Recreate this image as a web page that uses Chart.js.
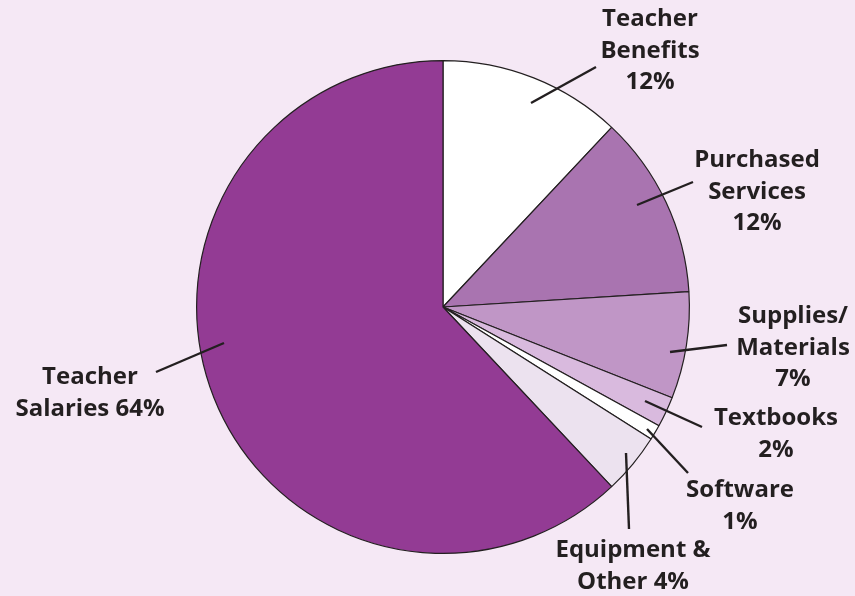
<!DOCTYPE html>
<html>
<head>
<meta charset="utf-8">
<script src="https://cdn.jsdelivr.net/npm/chart.js@4"></script>
<style>
  html, body { margin: 0; padding: 0; background: #f5e8f5; }
  #wrap { width: 855px; height: 596px; }
</style>
</head>
<body>
<div id="wrap"><canvas id="budgetChart" width="855" height="596"></canvas></div>
<script>
// slices, clockwise from 12 o'clock
var categories = ['Teacher Benefits', 'Purchased Services', 'Supplies/Materials', 'Textbooks', 'Software', 'Equipment & Other', 'Teacher Salaries'];
var shares = [12, 12, 7, 2, 1, 4, 62];
var printedPct = ['12%', '12%', '7%', '2%', '1%', '4%', '64%'];
var sliceColors = ['#ffffff', '#a974b0', '#c096c6', '#d9bade', '#ffffff', '#ece2ef', '#933b94'];

// label text lines, anchor (center x, first baseline) and leader line, relative to pie center
var labelLines = [
  ['Teacher', 'Benefits', '12%'],
  ['Purchased', 'Services', '12%'],
  ['Supplies/', 'Materials', '7%'],
  ['Textbooks', '2%'],
  ['Software', '1%'],
  ['Equipment &', 'Other 4%'],
  ['Teacher', 'Salaries 64%']
];
var labelSpots = [
  { x: 207, y: -281, lead: [88, -204, 153, -240] },
  { x: 314, y: -140, lead: [194, -102, 250, -125] },
  { x: 350, y: 16, lead: [227, 45, 284, 38] },
  { x: 333, y: 118, lead: [202, 94, 259, 120] },
  { x: 297, y: 190, lead: [204, 122, 245, 166] },
  { x: 190, y: 250, lead: [183, 146, 186, 222] },
  { x: -353, y: 77, lead: [-219, 36, -287, 65] }
];

var calloutPlugin = {
  id: 'callouts',
  afterDatasetsDraw: function (chart) {
    var ctx = chart.ctx;
    var arc = chart.getDatasetMeta(0).data[0];
    var cx = arc.x, cy = arc.y;
    ctx.save();
    ctx.strokeStyle = '#231f20';
    ctx.lineWidth = 2.4;
    ctx.fillStyle = '#231f20';
    ctx.font = 'bold 24px "Open Sans", sans-serif';
    ctx.textAlign = 'center';
    ctx.textBaseline = 'alphabetic';
    labelSpots.forEach(function (s, i) {
      var l = s.lead;
      ctx.beginPath();
      ctx.moveTo(cx + l[0], cy + l[1]);
      ctx.lineTo(cx + l[2], cy + l[3]);
      ctx.stroke();
      labelLines[i].forEach(function (t, j) {
        ctx.fillText(t, cx + s.x, cy + s.y + j * 31.5);
      });
    });
    ctx.restore();
  }
};

var ctx = document.getElementById('budgetChart').getContext('2d');
new Chart(ctx, {
  type: 'pie',
  data: {
    labels: categories,
    datasets: [{
      data: shares,
      backgroundColor: sliceColors,
      borderColor: '#231f20',
      borderWidth: 1.2
    }]
  },
  options: {
    responsive: false,
    animation: false,
    layout: { padding: { left: 196, right: 165, top: 60, bottom: 42 } },
    plugins: {
      legend: { display: false },
      tooltip: { enabled: false }
    }
  },
  plugins: [calloutPlugin]
});
</script>
</body>
</html>
